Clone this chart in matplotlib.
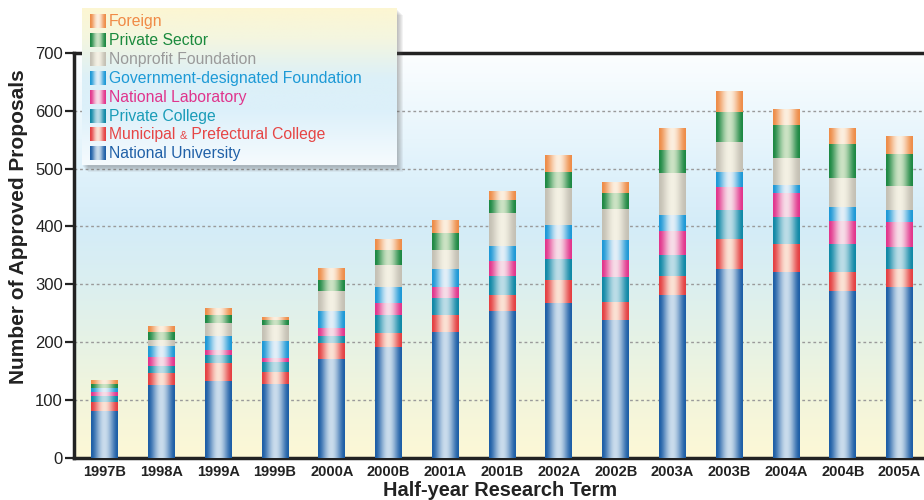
import numpy as np
import matplotlib
matplotlib.use("Agg")
import matplotlib.pyplot as plt
from matplotlib.colors import to_rgb, LinearSegmentedColormap
from matplotlib.patches import Rectangle

plt.rcParams['font.family'] = ['Liberation Sans', 'DejaVu Sans']

# data
terms = ["1997B", "1998A", "1999A", "1999B", "2000A", "2000B", "2001A", "2001B",
         "2002A", "2002B", "2003A", "2003B", "2004A", "2004B", "2005A"]
national_univ = [81, 125, 132, 128, 170, 191, 218, 253, 267, 239, 281, 327, 322, 289, 296]
municipal = [15, 21, 31, 21, 28, 24, 28, 28, 41, 31, 33, 51, 47, 33, 30]
private_college = [10, 13, 14, 17, 13, 31, 31, 34, 35, 42, 37, 51, 48, 47, 39]
national_lab = [8, 15, 10, 6, 14, 21, 18, 25, 35, 30, 41, 40, 41, 40, 42]
gov_foundation = [6, 20, 24, 29, 28, 28, 31, 27, 24, 35, 28, 25, 14, 25, 22]
nonprofit = [1, 10, 22, 28, 35, 38, 34, 57, 64, 53, 72, 52, 46, 50, 41]
private_sector = [7, 14, 13, 10, 20, 27, 28, 21, 28, 28, 40, 52, 58, 59, 55]
foreign = [6, 9, 12, 5, 20, 19, 22, 15, 29, 18, 37, 36, 27, 26, 30]

# (label, values, edge colour, centre colour, text colour), bottom to top
series = [
    ("National University", national_univ, "#1d5ea6", "#cadcec", "#2161a8"),
    ("Municipal & Prefectural College", municipal, "#e43f42", "#fbe2d4", "#e64545"),
    ("Private College", private_college, "#0f88a6", "#bcdde7", "#1a9cb8"),
    ("National Laboratory", national_lab, "#e2358c", "#f7dde8", "#e0348c"),
    ("Government-designated Foundation", gov_foundation, "#1c98d6", "#e2eff8", "#1d9ad6"),
    ("Nonprofit Foundation", nonprofit, "#c4c0b4", "#f4f1e4", "#9a9a9a"),
    ("Private Sector", private_sector, "#1d8843", "#cce3c4", "#1b8a3e"),
    ("Foreign", foreign, "#ee8c48", "#fcefdf", "#f08a46"),
]


def cylinder(dark, light, n=40):
    t = np.linspace(0, 1, n)
    f = np.sin(np.pi * t) ** 1.6
    d = np.array(to_rgb(dark))
    l = np.array(to_rgb(light))
    return (d[None, :] * (1 - f[:, None]) + l[None, :] * f[:, None])[None, :, :]


fig = plt.figure(figsize=(9.24, 5.0), dpi=100)
ax = fig.add_axes([74 / 924, 42.3 / 500, 1 - 74 / 924, (457.7 - 53) / 500])

x = np.arange(len(terms))
width = 0.475
xlim = (-0.54, 14.43)

# background gradient
bg_cmap = LinearSegmentedColormap.from_list("bg", [
    (0.0, "#fdf8d6"), (0.15, "#f2f5dc"), (0.3, "#e5f2e6"), (0.43, "#dbeff0"),
    (0.57, "#d4ecf8"), (0.72, "#e0f2fb"), (0.86, "#eef8fd"), (1.0, "#fcfeff")])
grad = np.linspace(0, 1, 256)[:, None]
ax.imshow(grad, extent=(xlim[0], xlim[1], 0, 700), origin="lower", cmap=bg_cmap,
          aspect="auto", zorder=0, interpolation="bilinear")

# grid
for v in range(100, 700, 100):
    ax.axhline(v, color="#9a9a9a", linestyle=(0, (2, 2)), linewidth=1, zorder=1)

# stacked cylinder bars
bottoms = np.zeros(len(terms))
for label, vals, dark, light, tcol in series:
    bars = ax.bar(x, vals, width, bottom=bottoms, color=dark, linewidth=0, zorder=3)
    img = cylinder(dark, light)
    for b in bars:
        if b.get_height() <= 0:
            continue
        ax.imshow(img, extent=(b.get_x(), b.get_x() + b.get_width(), b.get_y(),
                               b.get_y() + b.get_height()),
                  aspect="auto", zorder=4, interpolation="bilinear")
    bottoms += np.array(vals)

ax.set_xlim(*xlim)
ax.set_ylim(0, 700)
ax.set_yticks(range(0, 800, 100))
ax.set_xticks(x)
ax.set_xticklabels(terms, fontsize=10.5, fontweight="bold", color="#222222")
ax.tick_params(axis="x", length=0, pad=5)
ax.tick_params(axis="y", length=6.5, width=1.6, color="#222222", labelsize=12,
               labelcolor="#222222", pad=1.5)
for s in ["left", "bottom", "top"]:
    ax.spines[s].set_linewidth(2.5)
    ax.spines[s].set_color("#222222")
ax.spines["right"].set_visible(False)

fig.text(19 / 924, 1 - 227 / 500, "Number of Approved Proposals", rotation=90,
         ha="center", va="center", fontsize=15, fontweight="bold", color="#222222")
fig.text(500 / 924, 1 - 490 / 500, "Half-year Research Term", ha="center",
         va="center", fontsize=14.4, fontweight="bold", color="#222222")

# legend box with shadow
lx, ly, lw, lh = 82 / 924, 1 - 165 / 500, 315 / 924, 157 / 500
for i in range(6):
    fig.add_artist(Rectangle((lx + (1 + i) / 924, ly - (2 + i) / 500), lw, lh,
                             transform=fig.transFigure, color="#555555",
                             alpha=0.07, linewidth=0, zorder=1))
lax = fig.add_axes([lx, ly, lw, lh], zorder=2)
leg_cmap = LinearSegmentedColormap.from_list("leg", [
    (0.0, "#f6fbfe"), (0.35, "#dcf0fa"), (0.55, "#dcf0f8"), (0.8, "#f4f6e0"),
    (1.0, "#fdf6d2")])
lax.imshow(grad, extent=(0, 1, 0, 1), origin="lower", cmap=leg_cmap,
           aspect="auto", interpolation="bilinear")
lax.set_xlim(0, 1)
lax.set_ylim(0, 1)
lax.axis("off")

rows = [0.083, 0.204, 0.325, 0.446, 0.567, 0.688, 0.803, 0.924]
for (label, vals, dark, light, tcol), r in zip(series[::-1], rows):
    yc = 1 - r
    lax.imshow(cylinder(dark, light, 20), extent=(0.025, 0.073, yc - 0.042, yc + 0.042),
               aspect="auto", interpolation="bilinear")
    if "&" in label:
        t1 = lax.text(0.0857, yc, "Municipal ", va="center", ha="left",
                      fontsize=11.3, color=tcol)
        t2 = lax.annotate("&", xy=(1, 0), xycoords=t1, va="bottom", ha="left",
                          fontsize=8, color=tcol, xytext=(0, 0.6),
                          textcoords="offset points")
        lax.annotate(" Prefectural College", xy=(1, 0), xycoords=(t2, t1),
                     va="bottom", ha="left", fontsize=11.3, color=tcol)
    else:
        lax.text(0.0857, yc, label, va="center", ha="left", fontsize=11.3, color=tcol)

fig.savefig("out.png", dpi=100)
